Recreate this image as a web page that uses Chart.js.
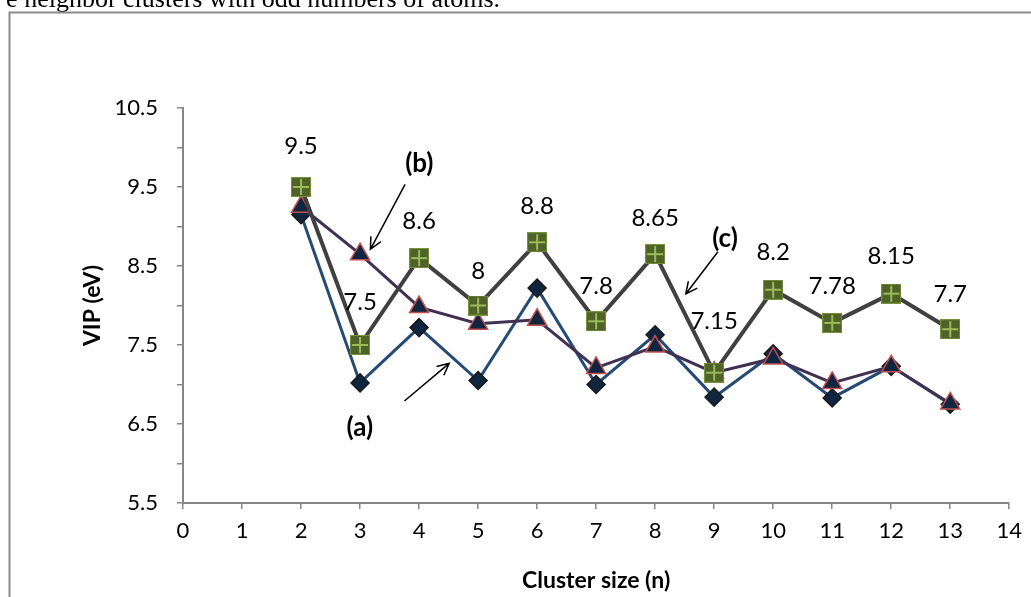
<!DOCTYPE html>
<html>
<head>
<meta charset="utf-8">
<script src="https://cdn.jsdelivr.net/npm/chart.js@4.4.1/dist/chart.umd.min.js"></script>
<style>
  html, body { margin: 0; padding: 0; background: #fff; overflow: hidden; }
  #wrap { position: relative; width: 1031px; height: 597px; }
</style>
</head>
<body>
<div id="wrap"><canvas id="vip" width="1031" height="597"></canvas></div>
<script>
// Cluster sizes (n) and vertical ionization potentials (eV)
const clusterSizes = [2, 3, 4, 5, 6, 7, 8, 9, 10, 11, 12, 13];
const vipA = [9.15, 7.02, 7.72, 7.05, 8.22, 7.0, 7.63, 6.84, 7.39, 6.83, 7.23, 6.75];
const vipB = [9.25, 8.65, 7.98, 7.77, 7.82, 7.21, 7.48, 7.15, 7.33, 7.02, 7.23, 6.76];
const vipC = [9.5, 7.5, 8.6, 8, 8.8, 7.8, 8.65, 7.15, 8.2, 7.78, 8.15, 7.7];

// Axis tick labels
const xTickLabels = ['0','1','2','3','4','5','6','7','8','9','10','11','12','13','14'];
const yTickLabels = ['5.5','6.5','7.5','8.5','9.5','10.5'];

// Series tags with their pointer arrows, in data coordinates
const seriesTags = [
  { text: '(a)', at: [2.995, 6.449], from: [3.752, 6.791], to: [4.51, 7.268] },
  { text: '(b)', at: [4.005, 9.80],  from: [3.763, 9.534], to: [3.175, 8.711] },
  { text: '(c)', at: [9.184, 8.85],  from: [9.064, 8.681], to: [8.519, 8.146] }
];

// vertical distance of each value label above its marker (px)
const labelLift = [41, 43, 37, 34, 36, 35, 36, 51, 37, 37, 37, 35];

const FONT = 'Lato, "Open Sans", sans-serif';

// green square marker with a light cross
function squareMarker() {
  const s = 20, c = document.createElement('canvas');
  c.width = s; c.height = s;
  const g = c.getContext('2d');
  g.fillStyle = '#4f6228';
  g.fillRect(0, 0, s, s);
  g.strokeStyle = '#76923c';
  g.lineWidth = 1;
  g.strokeRect(0.5, 0.5, s - 1, s - 1);
  g.strokeStyle = '#9bbb59';
  g.lineWidth = 2;
  g.beginPath();
  g.moveTo(s / 2, 2); g.lineTo(s / 2, s - 2);
  g.moveTo(2, s / 2); g.lineTo(s - 2, s / 2);
  g.stroke();
  return c;
}

function toPoints(ys) {
  return clusterSizes.map((n, i) => ({ x: n, y: ys[i] }));
}

function arrow(ctx, x1, y1, x2, y2) {
  const ang = Math.atan2(y2 - y1, x2 - x1);
  const head = 13, spread = Math.PI / 7;
  ctx.beginPath();
  ctx.moveTo(x1, y1);
  ctx.lineTo(x2, y2);
  ctx.moveTo(x2 - head * Math.cos(ang - spread), y2 - head * Math.sin(ang - spread));
  ctx.lineTo(x2, y2);
  ctx.lineTo(x2 - head * Math.cos(ang + spread), y2 - head * Math.sin(ang + spread));
  ctx.stroke();
}

const pageFrame = {
  id: 'pageFrame',
  beforeDraw(chart) {
    const ctx = chart.ctx;
    ctx.save();
    ctx.fillStyle = '#000';
    ctx.font = '26px "Liberation Serif", "Times New Roman", serif';
    ctx.textAlign = 'right';
    ctx.textBaseline = 'alphabetic';
    ctx.fillText('e neighbor clusters with odd numbers of atoms.', 500, 7);
    ctx.strokeStyle = '#8c8c8c';
    ctx.lineWidth = 2;
    ctx.beginPath();
    ctx.moveTo(9.5, 597);
    ctx.lineTo(9.5, 12.5);
    ctx.lineTo(1031, 12.5);
    ctx.stroke();
    ctx.restore();
  }
};

const annotate = {
  id: 'annotate',
  afterDatasetsDraw(chart) {
    const ctx = chart.ctx;
    const xs = chart.scales.x, ys = chart.scales.y;
    ctx.save();
    // value labels above the (c) markers
    ctx.fillStyle = '#000';
    ctx.font = '24px ' + FONT;
    ctx.textAlign = 'center';
    ctx.textBaseline = 'middle';
    chart.getDatasetMeta(0).data.forEach((pt, i) => {
      ctx.fillText(String(vipC[i]), pt.x, pt.y - labelLift[i]);
    });
    // series tags and arrows
    ctx.font = 'bold 26px ' + FONT;
    ctx.strokeStyle = '#000';
    ctx.lineWidth = 1.5;
    seriesTags.forEach(t => {
      ctx.fillText(t.text, xs.getPixelForValue(t.at[0]), ys.getPixelForValue(t.at[1]));
      arrow(ctx,
        xs.getPixelForValue(t.from[0]), ys.getPixelForValue(t.from[1]),
        xs.getPixelForValue(t.to[0]), ys.getPixelForValue(t.to[1]));
    });
    ctx.restore();
  }
};

new Chart(document.getElementById('vip'), {
  type: 'line',
  data: {
    datasets: [
      {
        label: '(c)',
        data: toPoints(vipC),
        borderColor: '#404040',
        borderWidth: 4,
        pointStyle: squareMarker(),
        tension: 0
      },
      {
        label: '(b)',
        data: toPoints(vipB),
        borderColor: '#403152',
        borderWidth: 3,
        pointStyle: 'triangle',
        pointRadius: 11,
        pointBackgroundColor: '#10253f',
        pointBorderColor: '#c0504d',
        pointBorderWidth: 1.5,
        tension: 0
      },
      {
        label: '(a)',
        data: toPoints(vipA),
        borderColor: '#254a73',
        borderWidth: 3,
        pointStyle: 'rectRot',
        pointRadius: 9,
        pointBackgroundColor: '#10253f',
        pointBorderColor: '#1a1a1a',
        pointBorderWidth: 1.5,
        tension: 0
      }
    ]
  },
  options: {
    responsive: false,
    animation: false,
    devicePixelRatio: 1,
    layout: { padding: { left: 70, top: 108, right: 16, bottom: 0 } },
    plugins: {
      legend: { display: false },
      tooltip: { enabled: false }
    },
    scales: {
      x: {
        type: 'linear',
        min: 0, max: 14,
        afterFit(scale) { scale.height = 94; },
        afterBuildTicks(scale) { scale.ticks = xTickLabels.map(v => ({ value: Number(v) })); },
        ticks: {
          autoSkip: false,
          padding: 9,
          color: '#000',
          font: { family: FONT, size: 22 },
          callback: (v, i) => xTickLabels[i]
        },
        grid: { drawOnChartArea: false, drawTicks: true, tickLength: 6, color: '#868686', lineWidth: 1.5 },
        border: { color: '#868686', width: 2 },
        title: {
          display: true,
          text: 'Cluster size (n)',
          color: '#000',
          font: { family: FONT, size: 23, weight: 'bold' },
          padding: { top: 0, bottom: 3 }
        }
      },
      y: {
        min: 5.5, max: 10.5,
        afterFit(scale) { scale.width = 113; },
        ticks: {
          stepSize: 0.5,
          padding: 19,
          color: '#000',
          font: { family: FONT, size: 22 },
          callback: v => {
            const s = String(Math.round(v * 10) / 10);
            return yTickLabels.includes(s) ? s : '';
          }
        },
        grid: { drawOnChartArea: false, drawTicks: true, tickLength: 6, color: '#868686', lineWidth: 1.5 },
        border: { color: '#868686', width: 2 },
        title: {
          display: true,
          text: 'VIP (eV)',
          color: '#000',
          font: { family: FONT, size: 23, weight: 'bold' },
          padding: { top: 9, bottom: 0 }
        }
      }
    }
  },
  plugins: [pageFrame, annotate]
});
</script>
</body>
</html>
